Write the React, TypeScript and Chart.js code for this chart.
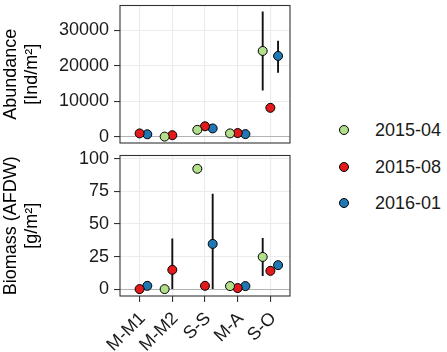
import React, { useEffect, useRef } from 'react';
import { Chart, registerables } from 'chart.js';
Chart.register(...registerables);

const categories = ['M-M1', 'M-M2', 'S-S', 'M-A', 'S-O'];
const seriesNames = ['2015-04', '2015-08', '2016-01'];
const seriesColors = ['#B2DF8A', '#E31A1C', '#1F78B4'];

// Abundance [Ind/m²]
const abund_2015_04 = [null, 100, 2000, 1000, 24200];
const abund_2015_08 = [1000, 500, 3000, 1100, 8200];
const abund_2016_01 = [750, null, 2400, 800, 22800];
const abundLow_2015_04 = [null, null, null, null, 13100];
const abundHigh_2015_04 = [null, null, null, null, 35300];
const abundLow_2016_01 = [null, null, null, null, 18100];
const abundHigh_2016_01 = [null, null, null, null, 27100];

// Biomass (AFDW) [g/m²]
const bio_2015_04 = [null, 0, 92.4, 2.3, 24.7];
const bio_2015_08 = [0, 14.8, 2.5, 0.8, 14];
const bio_2016_01 = [2.5, null, 34.7, 2.3, 18.4];
const bioLow_2015_04 = [null, null, null, null, 10];
const bioHigh_2015_04 = [null, null, null, null, 39.3];
const bioLow_2015_08 = [null, 0, null, null, null];
const bioHigh_2015_08 = [null, 38.8, null, null, null];
const bioLow_2016_01 = [null, null, 0, null, null];
const bioHigh_2016_01 = [null, null, 73.3, null, null];

const abundTicks = [0, 5000, 10000, 15000, 20000, 25000, 30000, 35000];
const bioTicks = [0, 12.5, 25, 37.5, 50, 62.5, 75, 87.5, 100];

const FONT = 'Liberation Sans, Arial, Helvetica, sans-serif';
const DODGE = 0.235;
const offsets = [-DODGE, 0, DODGE];

function toPoints(vals: (number | null)[], s: number) {
  const out: { x: number; y: number }[] = [];
  vals.forEach((v, i) => {
    if (v !== null) out.push({ x: i + 1 + offsets[s], y: v });
  });
  return out;
}

function toBars(lo: (number | null)[], hi: (number | null)[], s: number) {
  const out: { x: number; lo: number; hi: number }[] = [];
  lo.forEach((l, i) => {
    const h = hi[i];
    if (l !== null && h !== null) out.push({ x: i + 1 + offsets[s], lo: l, hi: h });
  });
  return out;
}

const errorBarPlugin = {
  id: 'errorBars',
  beforeDatasetsDraw(chart: any, _args: any, opts: any) {
    const bars = opts.bars || [];
    const { ctx, chartArea } = chart;
    const xs = chart.scales.x;
    const ys = chart.scales.y;
    ctx.save();
    ctx.beginPath();
    ctx.rect(chartArea.left, chartArea.top, chartArea.right - chartArea.left, chartArea.bottom - chartArea.top);
    ctx.clip();
    ctx.strokeStyle = '#111';
    ctx.lineWidth = 1.9;
    for (const b of bars) {
      const x = xs.getPixelForValue(b.x);
      ctx.beginPath();
      ctx.moveTo(x, ys.getPixelForValue(b.lo));
      ctx.lineTo(x, ys.getPixelForValue(b.hi));
      ctx.stroke();
    }
    ctx.restore();
  },
};

const framePlugin = {
  id: 'panelFrame',
  afterDraw(chart: any) {
    const { ctx, chartArea } = chart;
    ctx.save();
    ctx.strokeStyle = '#333';
    ctx.lineWidth = 1.1;
    ctx.strokeRect(chartArea.left, chartArea.top, chartArea.right - chartArea.left, chartArea.bottom - chartArea.top);
    ctx.restore();
  },
};

function makeConfig(
  series: (number | null)[][],
  bars: { x: number; lo: number; hi: number }[],
  yMin: number,
  yMax: number,
  ticks: number[],
  majorStep: number,
  title: string[],
  showX: boolean,
  padding: any
): any {
  const isMajor = (v: number) => Math.abs(v / majorStep - Math.round(v / majorStep)) < 1e-9;
  return {
    type: 'scatter',
    data: {
      datasets: series.map((vals, s) => ({
        label: seriesNames[s],
        data: toPoints(vals, s),
        backgroundColor: seriesColors[s],
        borderColor: '#000',
        borderWidth: 1,
        pointRadius: 4.5,
        pointHoverRadius: 4.5,
      })),
    },
    options: {
      responsive: false,
      animation: false,
      devicePixelRatio: 1,
      layout: { padding },
      plugins: {
        legend: { display: false },
        tooltip: { enabled: false },
        errorBars: { bars },
      },
      scales: {
        x: {
          type: 'linear',
          min: 0.4,
          max: 5.6,
          afterBuildTicks: (s: any) => {
            s.ticks = categories.map((_, i) => ({ value: i + 1 }));
          },
          ticks: {
            display: showX,
            autoSkip: false,
            minRotation: 45,
            maxRotation: 45,
            padding: 6,
            labelOffset: 3,
            color: '#1a1a1a',
            font: { family: FONT, size: 18 },
            callback: (v: number) => categories[Math.round(v) - 1],
          },
          grid: {
            color: '#EBEBEB',
            lineWidth: 1.1,
            drawTicks: showX,
            tickLength: 6,
            tickColor: '#333',
            tickWidth: 1.1,
          },
          border: { display: false },
          afterFit: (s: any) => {
            s.height = showX ? 56 : 0;
            s.paddingLeft = 0;
            s.paddingRight = 0;
            s.paddingTop = 0;
            s.paddingBottom = 0;
          },
        },
        y: {
          type: 'linear',
          min: yMin,
          max: yMax,
          afterBuildTicks: (s: any) => {
            s.ticks = ticks.map((v) => ({ value: v }));
          },
          ticks: {
            padding: 5,
            color: '#1a1a1a',
            font: { family: FONT, size: 18 },
            callback: (v: number) => (isMajor(v) ? String(v) : ''),
          },
          grid: {
            color: (c: any) => (c.tick && c.tick.value === 0 ? '#B3B3B3' : '#EBEBEB'),
            lineWidth: (c: any) => (c.tick && !isMajor(c.tick.value) ? 0.55 : 1.1),
            tickLength: 6,
            tickColor: (c: any) => (c.tick && isMajor(c.tick.value) ? '#333' : 'rgba(0,0,0,0)'),
            tickWidth: 1.1,
          },
          border: { display: false },
          title: {
            display: true,
            text: title,
            color: '#000',
            font: { family: FONT, size: 18, lineHeight: 1.2 },
            padding: { top: 0, bottom: 0 },
          },
          afterFit: (s: any) => {
            s.width = 120;
            s.paddingLeft = 0;
            s.paddingRight = 0;
            s.paddingTop = 0;
            s.paddingBottom = 0;
          },
        },
      },
    },
    plugins: [errorBarPlugin, framePlugin],
  };
}

function ChartCanvas({ config, width, height, top }: any) {
  const ref = useRef<HTMLCanvasElement | null>(null);
  useEffect(() => {
    if (!ref.current) return;
    const chart = new Chart(ref.current, config);
    return () => chart.destroy();
  }, []);
  return (
    <canvas
      ref={ref}
      width={width}
      height={height}
      style={{ position: 'absolute', left: 0, top, width, height }}
    />
  );
}

export default function App() {
  const topConfig = makeConfig(
    [abund_2015_04, abund_2015_08, abund_2016_01],
    [...toBars(abundLow_2015_04, abundHigh_2015_04, 0), ...toBars(abundLow_2016_01, abundHigh_2016_01, 2)],
    -1700,
    37000,
    abundTicks,
    10000,
    ['Abundance', '[Ind/m²]'],
    false,
    { left: 0, right: 10, top: 4, bottom: 7 }
  );
  const bottomConfig = makeConfig(
    [bio_2015_04, bio_2015_08, bio_2016_01],
    [
      ...toBars(bioLow_2015_04, bioHigh_2015_04, 0),
      ...toBars(bioLow_2015_08, bioHigh_2015_08, 1),
      ...toBars(bioLow_2016_01, bioHigh_2016_01, 2),
    ],
    -5.3,
    102.6,
    bioTicks,
    25,
    ['Biomass (AFDW)', '[g/m²]'],
    true,
    { left: 0, right: 10, top: 5, bottom: 0 }
  );
  const legendY = [130, 166.7, 202.7];
  return (
    <div style={{ position: 'absolute', left: 0, top: 0, width: 447, height: 352, background: '#fff' }}>
      <ChartCanvas config={topConfig} width={300} height={150} top={0} />
      <ChartCanvas config={bottomConfig} width={300} height={202} top={150} />
      {seriesNames.map((name, i) => (
        <React.Fragment key={name}>
          <div
            style={{
              position: 'absolute',
              left: 344.3 - 5,
              top: legendY[i] - 5,
              width: 8,
              height: 8,
              borderRadius: '50%',
              border: '1px solid #000',
              background: seriesColors[i],
            }}
          />
          <div
            style={{
              position: 'absolute',
              left: 375,
              top: legendY[i] - 11,
              height: 22,
              lineHeight: '22px',
              fontFamily: FONT,
              fontSize: 18,
              color: '#1a1a1a',
              whiteSpace: 'nowrap',
            }}
          >
            {name}
          </div>
        </React.Fragment>
      ))}
    </div>
  );
}
